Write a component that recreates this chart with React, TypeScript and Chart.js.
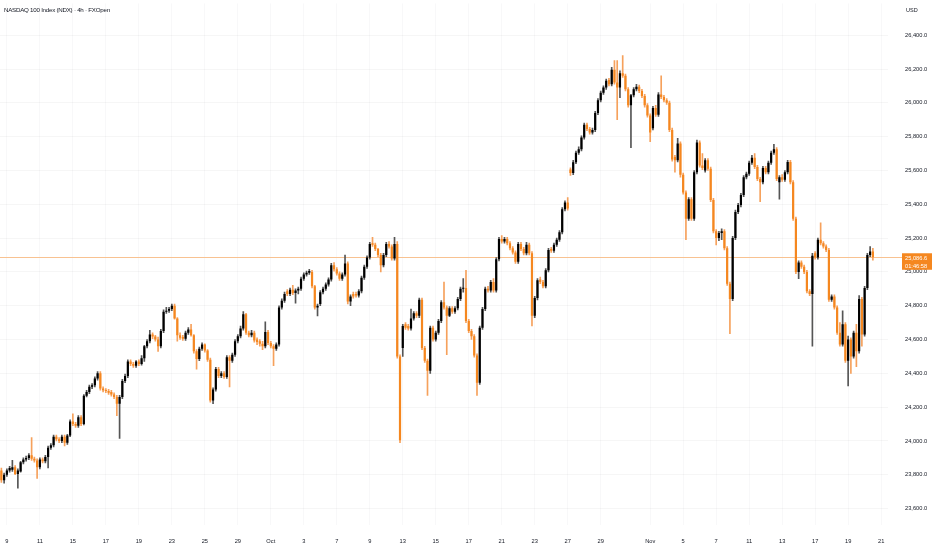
import React, { useEffect, useRef } from 'react';
import { Chart, registerables } from 'chart.js';

Chart.register(...registerables);

// NASDAQ 100 (NDX) 4h bars, Sep 8 -> Nov 20, six bars per session
const open = [
  23826, 23768,
  23800, 23826, 23830, 23845, 23805, 23820,
  23874, 23890, 23900, 23915, 23895, 23885,
  23845, 23890, 23880, 23905, 23960, 23975,
  24025, 24010, 24000, 24025, 23990, 24032,
  24115, 24100, 24090, 24140, 24100, 24267,
  24290, 24320, 24330, 24370, 24400, 24310,
  24300, 24295, 24290, 24275, 24260, 24220,
  24260, 24355, 24385, 24470, 24455, 24445,
  24470, 24455, 24490, 24560, 24590, 24630,
  24618, 24600, 24560, 24650, 24765, 24770,
  24780, 24800, 24725, 24625, 24615, 24605,
  24640, 24660, 24625, 24530, 24485, 24545,
  24570, 24535, 24480, 24240, 24305, 24425,
  24385, 24400, 24378, 24495, 24475, 24510,
  24590, 24620, 24665, 24750, 24640, 24625,
  24640, 24600, 24590, 24575, 24560, 24645,
  24580, 24560, 24545, 24570, 24790, 24830,
  24885, 24870, 24895, 24875, 24890, 24900,
  24960, 24985, 24995, 25000, 24915, 24790,
  24810, 24880, 24900, 24925, 24955, 25040,
  25015, 24990, 24960, 24985, 25050, 24825,
  24870, 24870, 24860, 24885, 24965, 25030,
  25085, 25170, 25160, 25135, 25100, 25040,
  25100, 25165, 25150, 25080, 25165, 24500,
  24550, 24690, 24680, 24665, 24725, 24755,
  24740, 24835, 24550, 24475, 24415, 24670,
  24600, 24640, 24710, 24820, 24790, 24740,
  24785, 24765, 24785, 24840, 24900, 24905,
  24710, 24650, 24620, 24505, 24345, 24670,
  24780, 24900, 24890, 24940, 24890, 25075,
  25195, 25180, 25195, 25170, 25140, 25115,
  25060, 25165, 25135, 25110, 25160, 25110,
  24740, 24845, 24955, 24940, 24915, 25010,
  25135, 25125, 25160, 25190, 25235, 25370,
  25410, 25605, 25585, 25648, 25705, 25725,
  25795, 25870, 25845, 25825, 25840, 25940,
  26015, 26060, 26090, 26135, 26110, 26195,
  26120, 26090, 26175, 26160, 26080, 25985,
  26045, 26080, 26095, 26070, 26040, 25985,
  25925, 25850, 25970, 25930, 26050, 26035,
  26015, 26000, 25840, 25680, 25660, 25760,
  25575, 25470, 25315, 25430, 25315, 25590,
  25765, 25630, 25600, 25660, 25610, 25425,
  25240, 25200, 25230, 25240, 25140, 24930,
  24840, 25200, 25355, 25395, 25455, 25560,
  25580, 25645, 25675, 25620, 25550, 25530,
  25615, 25590, 25645, 25705, 25725, 25530,
  25560, 25545, 25590, 25650, 25530, 25315,
  25000, 25055, 25030, 25000, 24885, 24870,
  25110, 25085, 25190, 25170, 25150, 25130,
  24835, 24855, 24790, 24640, 24570, 24690,
  24475, 24600, 24500, 24640, 24530, 24840,
  24630, 24905, 25100, 25120,
];

const high = [
  23840, 23810,
  23835, 23850, 23885, 23855, 23835, 23880,
  23900, 23910, 23925, 24020, 23905, 23895,
  23900, 23900, 23915, 23970, 23985, 24035,
  24035, 24020, 24035, 24035, 24040, 24125,
  24160, 24110, 24150, 24150, 24275, 24300,
  24330, 24340, 24380, 24410, 24410, 24320,
  24310, 24305, 24300, 24285, 24270, 24270,
  24365, 24395, 24480, 24480, 24465, 24475,
  24480, 24505, 24565, 24600, 24655, 24640,
  24625, 24615, 24660, 24775, 24790, 24790,
  24810, 24810, 24730, 24640, 24625, 24650,
  24670, 24690, 24630, 24540, 24555, 24580,
  24575, 24540, 24490, 24315, 24435, 24435,
  24410, 24410, 24505, 24505, 24520, 24600,
  24630, 24680, 24765, 24755, 24650, 24655,
  24650, 24610, 24600, 24590, 24705, 24655,
  24590, 24570, 24580, 24800, 24840, 24880,
  24895, 24905, 24920, 24900, 24910, 24970,
  24995, 25005, 25015, 25010, 24920, 24810,
  24890, 24910, 24935, 24965, 25050, 25055,
  25025, 25000, 24995, 25100, 25060, 24865,
  24880, 24880, 24895, 24975, 25040, 25095,
  25175, 25205, 25170, 25140, 25110, 25110,
  25175, 25180, 25160, 25205, 25180, 24510,
  24690, 24700, 24690, 24780, 24765, 24765,
  24845, 24845, 24560, 24485, 24680, 24680,
  24650, 24720, 24830, 24940, 24800, 24795,
  24795, 24795, 24850, 24910, 24960, 25010,
  24720, 24660, 24630, 24515, 24680, 24790,
  24910, 24915, 24950, 24960, 25085, 25205,
  25215, 25205, 25205, 25180, 25150, 25125,
  25175, 25175, 25145, 25175, 25170, 25120,
  24855, 24960, 24970, 24950, 25020, 25140,
  25145, 25170, 25200, 25245, 25380, 25420,
  25440, 25615, 25660, 25715, 25740, 25805,
  25880, 25880, 25855, 25850, 25950, 26025,
  26070, 26100, 26140, 26145, 26210, 26250,
  26250, 26190, 26280, 26170, 26090, 26050,
  26090, 26110, 26105, 26080, 26050, 25995,
  25935, 25980, 25985, 26060, 26160, 26045,
  26025, 26010, 25850, 25690, 25790, 25770,
  25585, 25480, 25440, 25440, 25600, 25780,
  25775, 25700, 25670, 25670, 25620, 25435,
  25250, 25240, 25255, 25250, 25150, 24940,
  25210, 25365, 25405, 25465, 25570, 25590,
  25655, 25690, 25700, 25630, 25560, 25625,
  25625, 25655, 25715, 25755, 25735, 25570,
  25575, 25600, 25660, 25660, 25540, 25325,
  25065, 25065, 25040, 25010, 24895, 25110,
  25120, 25200, 25290, 25180, 25160, 25140,
  24865, 24865, 24800, 24700, 24770, 24700,
  24620, 24610, 24650, 24690, 24860, 24850,
  24915, 25110, 25150, 25140,
];

const low = [
  23755, 23750,
  23790, 23815, 23820, 23800, 23721, 23815,
  23865, 23880, 23890, 23885, 23875, 23778,
  23835, 23870, 23870, 23840, 23950, 23965,
  24000, 23990, 23990, 23970, 23980, 24025,
  24090, 24080, 24080, 24090, 24095, 24260,
  24280, 24310, 24320, 24360, 24300, 24290,
  24285, 24275, 24265, 24250, 24150, 24015,
  24250, 24345, 24375, 24445, 24435, 24435,
  24445, 24448, 24470, 24550, 24580, 24605,
  24590, 24530, 24550, 24640, 24755, 24760,
  24770, 24720, 24590, 24600, 24595, 24595,
  24630, 24620, 24520, 24425, 24475, 24535,
  24525, 24470, 24230, 24220, 24295, 24375,
  24375, 24370, 24370, 24320, 24465, 24500,
  24580, 24610, 24655, 24630, 24615, 24615,
  24585, 24570, 24560, 24540, 24550, 24570,
  24550, 24445, 24535, 24560, 24780, 24820,
  24860, 24860, 24865, 24815, 24870, 24890,
  24950, 24975, 24985, 24905, 24780, 24740,
  24800, 24870, 24890, 24915, 24945, 25005,
  24980, 24950, 24950, 24975, 24810, 24800,
  24845, 24850, 24850, 24875, 24955, 25020,
  25075, 25150, 25125, 25090, 25000, 25030,
  25090, 25140, 25070, 25070, 24490, 23990,
  24500, 24660, 24655, 24655, 24715, 24730,
  24730, 24540, 24465, 24270, 24400, 24590,
  24590, 24630, 24700, 24780, 24510, 24735,
  24755, 24755, 24775, 24830, 24880, 24700,
  24640, 24600, 24495, 24270, 24335, 24660,
  24770, 24880, 24880, 24880, 24880, 25065,
  25170, 25170, 25160, 25130, 25105, 25050,
  25050, 25125, 25100, 25100, 25100, 24680,
  24730, 24835, 24930, 24905, 24905, 25000,
  25115, 25115, 25150, 25180, 25225, 25360,
  25365, 25570, 25575, 25640, 25695, 25715,
  25785, 25835, 25815, 25815, 25830, 25930,
  26005, 26050, 26080, 26100, 26100, 26110,
  25900, 26030, 26150, 26070, 25975, 25735,
  26035, 26070, 26060, 26030, 25975, 25915,
  25770, 25840, 25920, 25920, 26025, 26005,
  25990, 25830, 25655, 25590, 25650, 25560,
  25460, 25190, 25305, 25305, 25305, 25580,
  25620, 25605, 25590, 25600, 25415, 25230,
  25160, 25185, 25190, 25130, 24920, 24635,
  24830, 25190, 25345, 25385, 25445, 25550,
  25570, 25635, 25610, 25540, 25415, 25520,
  25580, 25580, 25635, 25695, 25540, 25430,
  25535, 25535, 25580, 25520, 25305, 24990,
  24960, 25020, 24990, 24875, 24860, 24560,
  25075, 25075, 25160, 25140, 25120, 24825,
  24825, 24780, 24630, 24560, 24560, 24465,
  24326, 24400, 24490, 24440, 24520, 24560,
  24620, 24895, 25090, 25070,
];

const close = [
  23768, 23800,
  23826, 23840, 23845, 23805, 23826, 23874,
  23890, 23900, 23915, 23895, 23885, 23845,
  23890, 23880, 23905, 23960, 23975, 24025,
  24010, 24000, 24025, 23990, 24032, 24115,
  24100, 24090, 24140, 24100, 24267, 24290,
  24320, 24330, 24370, 24400, 24310, 24300,
  24295, 24285, 24275, 24260, 24220, 24260,
  24355, 24385, 24470, 24455, 24445, 24470,
  24455, 24490, 24560, 24590, 24630, 24618,
  24600, 24560, 24650, 24765, 24770, 24780,
  24800, 24725, 24625, 24610, 24605, 24640,
  24660, 24625, 24530, 24485, 24545, 24570,
  24535, 24480, 24240, 24305, 24425, 24385,
  24400, 24378, 24495, 24475, 24510, 24590,
  24620, 24665, 24750, 24640, 24625, 24640,
  24595, 24585, 24575, 24560, 24645, 24580,
  24560, 24545, 24570, 24790, 24830, 24870,
  24870, 24895, 24875, 24890, 24900, 24960,
  24985, 24995, 25005, 24915, 24790, 24800,
  24880, 24900, 24925, 24955, 25040, 25015,
  24990, 24960, 24985, 25050, 24825, 24855,
  24855, 24860, 24885, 24965, 25030, 25085,
  25165, 25160, 25135, 25100, 25040, 25100,
  25165, 25150, 25080, 25165, 24500, 24005,
  24680, 24670, 24665, 24725, 24755, 24740,
  24835, 24550, 24475, 24415, 24670, 24600,
  24640, 24710, 24820, 24790, 24740, 24785,
  24765, 24785, 24840, 24900, 24905, 24710,
  24650, 24620, 24505, 24345, 24670, 24780,
  24900, 24890, 24940, 24890, 25075, 25195,
  25180, 25195, 25170, 25140, 25115, 25060,
  25165, 25135, 25110, 25160, 25110, 24740,
  24845, 24950, 24940, 24915, 25010, 25130,
  25125, 25160, 25190, 25235, 25370, 25410,
  25375, 25585, 25648, 25705, 25725, 25795,
  25870, 25845, 25825, 25840, 25940, 26015,
  26060, 26090, 26130, 26110, 26195, 26120,
  26090, 26175, 26160, 26080, 25985, 26045,
  26080, 26095, 26070, 26040, 25985, 25925,
  25825, 25970, 25930, 26050, 26035, 26015,
  26000, 25840, 25665, 25660, 25760, 25575,
  25470, 25315, 25430, 25315, 25590, 25765,
  25630, 25615, 25660, 25610, 25425, 25240,
  25200, 25230, 25240, 25140, 24930, 24840,
  25200, 25355, 25395, 25455, 25560, 25580,
  25645, 25675, 25620, 25550, 25530, 25615,
  25590, 25645, 25705, 25725, 25550, 25560,
  25545, 25590, 25650, 25530, 25315, 25000,
  25055, 25030, 25000, 24885, 24870, 25095,
  25085, 25190, 25170, 25150, 25130, 24835,
  24855, 24790, 24640, 24570, 24690, 24475,
  24600, 24500, 24640, 24530, 24840, 24630,
  24905, 25100, 25120, 25087,
];

// time axis: bar index of each dated tick and its text
const tickIndex = [2, 14, 26, 38, 50, 62, 74, 86, 98, 110, 122, 134, 146, 158, 170, 182, 194, 206, 218, 236, 248, 260, 272, 284, 296, 308, 320];
const tickText = ['9', '11', '15', '17', '19', '23', '25', '29', 'Oct', '3', '7', '9', '13', '15', '17', '21', '23', '27', '29', 'Nov', '5', '7', '11', '13', '17', '19', '21'];

const priceTicks = [23600, 23800, 24000, 24200, 24400, 24600, 24800, 25000, 25200, 25400, 25600, 25800, 26000, 26200, 26400];
const lastPrice = 25086.6;
const countdown = '01:46:58';
const slotCount = 323; // bars plus the empty space up to Nov 21
const yMin = 23503;
const yMax = 26588;

const UP = '#000000';
const DOWN = '#f5871f';
const FONT = '"Liberation Sans", Arial, sans-serif';
const GRID_H = 'rgba(42, 46, 57, 0.045)';
const GRID_V = 'rgba(42, 46, 57, 0.03)';

const fmt = (v: number) =>
  v.toLocaleString('en-US', { minimumFractionDigits: 1, maximumFractionDigits: 1 });

const lastPricePlugin = {
  id: 'lastPrice',
  beforeDatasetsDraw(chart: any) {
    const { ctx, chartArea, scales } = chart;
    const y = Math.round(scales.y.getPixelForValue(lastPrice)) + 0.5;
    ctx.save();
    ctx.strokeStyle = '#f8c291';
    ctx.lineWidth = 1;
    ctx.beginPath();
    ctx.moveTo(chartArea.left, y);
    ctx.lineTo(chartArea.right + 14, y);
    ctx.stroke();
    ctx.restore();
  },
  afterDraw(chart: any) {
    const { ctx, chartArea, scales } = chart;
    const y = scales.y.getPixelForValue(lastPrice);
    const x = chartArea.right + 14;
    ctx.save();
    ctx.fillStyle = DOWN;
    ctx.fillRect(x, y - 4, chart.width - x, 16.5);
    ctx.fillStyle = '#ffffff';
    ctx.font = `5.7px ${FONT}`;
    ctx.textBaseline = 'middle';
    ctx.fillText(fmt(lastPrice), x + 3, y + 0.8);
    ctx.fillText(countdown, x + 3, y + 8.8);
    ctx.restore();
  },
};

const CandleChart = (): JSX.Element => {
  const canvasRef = useRef<HTMLCanvasElement>(null);

  useEffect(() => {
    const labels = Array.from({ length: slotCount }, (_, i) => String(i));
    const isUp = close.map((c, i) => c >= open[i]);

    const chart = new Chart(canvasRef.current, {
      type: 'bar',
      data: {
        labels,
        datasets: [
          {
            label: 'body',
            data: open.map((o, i) => [Math.min(o, close[i]), Math.max(o, close[i])]),
            backgroundColor: isUp.map((u) => (u ? UP : DOWN)),
            barPercentage: 0.8,
            categoryPercentage: 1,
            minBarLength: 1,
            grouped: false,
            order: 1,
          },
          {
            label: 'wick',
            data: low.map((l, i) => [l, high[i]]),
            backgroundColor: isUp.map((u) => (u ? '#555555' : '#f6a15c')),
            barThickness: 1,
            grouped: false,
            order: 2,
          },
        ],
      },
      options: {
        animation: false,
        responsive: true,
        maintainAspectRatio: false,
        events: [],
        layout: { padding: 0 },
        plugins: {
          legend: { display: false },
          tooltip: { enabled: false },
        },
        scales: {
          x: {
            type: 'category',
            offset: true,
            border: { display: false },
            grid: {
              offset: false,
              color: GRID_V,
              drawTicks: true,
              tickLength: 13.5,
              tickColor: 'transparent',
            },
            ticks: {
              autoSkip: false,
              maxRotation: 0,
              padding: 0,
              color: '#131722',
              font: { family: FONT, size: 5.7 },
              callback: (v: any) => {
                const k = tickIndex.indexOf(Number(v));
                return k < 0 ? null : tickText[k];
              },
            },
            afterBuildTicks: (axis: any) => {
              axis.ticks = tickIndex.map((v) => ({ value: v }));
            },
            afterFit: (axis: any) => {
              axis.height = 25;
            },
          },
          y: {
            position: 'right',
            min: yMin,
            max: yMax,
            border: { display: false },
            grid: {
              color: (c: any) => (priceTicks.includes(c.tick?.value) ? GRID_H : 'transparent'),
              drawTicks: true,
              tickLength: 17,
              tickColor: 'transparent',
            },
            ticks: {
              autoSkip: false,
              padding: 0,
              color: '#131722',
              font: { family: FONT, size: 5.7 },
              callback: (v: any) => (priceTicks.includes(Number(v)) ? fmt(Number(v)) : null),
            },
            afterBuildTicks: (axis: any) => {
              axis.ticks = [yMin, ...priceTicks, yMax].map((v) => ({ value: v }));
            },
            afterFit: (axis: any) => {
              axis.width = 44;
            },
          },
        },
      },
      plugins: [lastPricePlugin],
    });

    return () => {
      chart.destroy();
    };
  }, []);

  return (
    <div style={{ position: 'absolute', left: 0, top: 0, width: 932, height: 550 }}>
      <canvas ref={canvasRef} />
    </div>
  );
};

const App = (): JSX.Element => (
  <div
    style={{
      position: 'fixed',
      left: 0,
      top: 0,
      width: 932,
      height: 550,
      background: '#ffffff',
      fontFamily: FONT,
      color: '#131722',
    }}
  >
    <CandleChart />
    <div
      style={{
        position: 'absolute',
        left: 4,
        top: 6,
        fontSize: 6.2,
        lineHeight: '8px',
        letterSpacing: -0.25,
        whiteSpace: 'nowrap',
      }}
    >
      NASDAQ 100 Index (NDX) · 4h · FXOpen
    </div>
    <div style={{ position: 'absolute', left: 906, top: 6, fontSize: 5.5, lineHeight: '8px' }}>USD</div>
  </div>
);

export default App;
